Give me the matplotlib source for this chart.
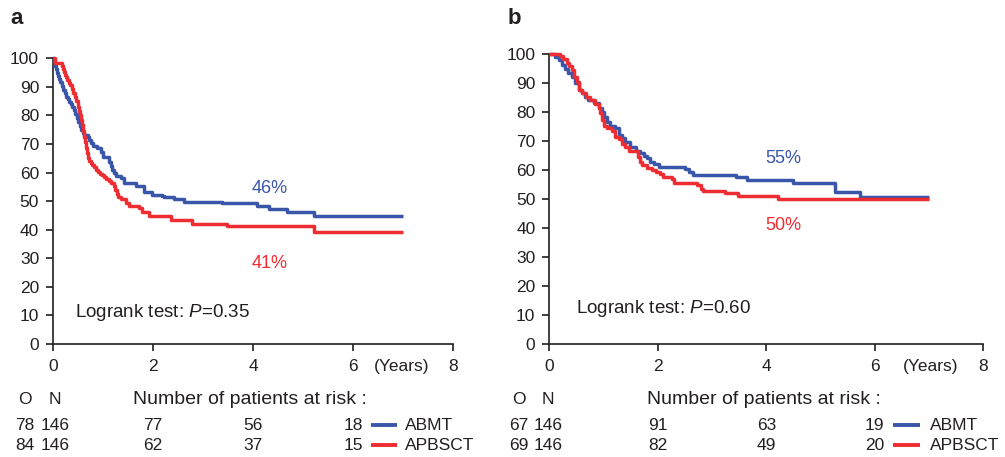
import matplotlib
matplotlib.use("Agg")
import matplotlib.pyplot as plt
from matplotlib.transforms import blended_transform_factory

plt.rcParams['font.family'] = ['Liberation Sans', 'DejaVu Sans']
plt.rcParams['mathtext.fontset'] = 'custom'
plt.rcParams['mathtext.rm'] = 'Liberation Sans'
plt.rcParams['mathtext.it'] = 'Liberation Sans:italic'

BLUE = '#3a56a8'
RED = '#ee2d33'
TXT = '#231f20'

# ---- Panel a data ----
a_abmt_t = [0, 0.02, 0.04, 0.06, 0.08, 0.10, 0.12, 0.14, 0.17, 0.20,
            0.23, 0.26, 0.29, 0.32, 0.35, 0.38, 0.41, 0.44, 0.47, 0.50,
            0.53, 0.56, 0.59, 0.62, 0.69, 0.72, 0.75, 0.8, 0.88, 0.95,
            1.0, 1.12, 1.15, 1.18, 1.21, 1.25, 1.35, 1.41, 1.65, 1.81,
            1.98, 2.18, 2.21, 2.41, 2.61, 3.38, 4.08, 4.31, 4.68, 5.21, 7.0]
a_abmt_s = [100, 98.7, 97.4, 96.2, 95, 93.8, 92.6, 91.6, 90.4, 89,
            87.8, 86.6, 85.6, 84.8, 84, 83, 81.8, 80.6, 79.2, 77.6,
            76.2, 75, 74, 73.2, 72.6, 71.5, 70.2, 69.3, 68.5, 67.3,
            65.3, 63.8, 62.2, 60.8, 59.7, 58.8, 58, 56.5, 55.3, 53.3,
            52.2, 51.8, 51.3, 50.6, 49.8, 49.2, 48.3, 47.1, 46.2, 44.8, 44.8]
a_apb_t = [0, 0.03, 0.18, 0.2, 0.22, 0.24, 0.26, 0.28, 0.31, 0.34,
           0.37, 0.40, 0.43, 0.46, 0.49, 0.51, 0.53, 0.55, 0.57, 0.59,
           0.61, 0.63, 0.65, 0.67, 0.69, 0.72, 0.75, 0.78, 0.81, 0.85,
           0.89, 0.93, 0.97, 1.01, 1.06, 1.11, 1.16, 1.21, 1.24, 1.27,
           1.30, 1.35, 1.45, 1.51, 1.71, 1.78, 1.91, 2.35, 2.78, 3.48, 5.21, 7.0]
a_apb_s = [100, 98.2, 97.2, 96.2, 95.2, 94.2, 93.3, 92.4, 91.5, 90.7,
           89.4, 88, 86.6, 85, 83.1, 81.5, 80, 78.4, 76.6, 74.6,
           72.6, 70.6, 68.6, 66.7, 65.2, 64.2, 63.3, 62.5, 61.8, 61,
           60.2, 59.6, 59, 58.4, 57.8, 57.2, 56.4, 55.2, 53.8, 52.5,
           51.6, 50.8, 49.2, 48.4, 47.5, 46.3, 44.8, 43.5, 42, 41.2, 39.1, 39.1]

# ---- Panel b data ----
b_abmt_t = [0, 0.1, 0.17, 0.23, 0.29, 0.35, 0.41, 0.48, 0.54, 0.6,
            0.66, 0.72, 0.82, 0.91, 0.97, 1.01, 1.06, 1.12, 1.22, 1.28,
            1.34, 1.4, 1.49, 1.59, 1.68, 1.74, 1.8, 1.86, 1.93, 2.02,
            2.51, 2.57, 2.64, 3.44, 3.65, 4.49, 5.26, 5.72, 7.0]
b_abmt_s = [100, 99, 97.9, 96.2, 94.7, 93.3, 92, 89.9, 87.6, 86.4,
            85.3, 84.1, 83, 81.3, 80.1, 78.3, 76.6, 75.2, 74.4, 72.1,
            70.9, 69.8, 68, 66.7, 66, 64.8, 64, 62.9, 62.1, 61.1,
            60.4, 59.4, 58.3, 57.5, 56.6, 55.6, 52.5, 50.8, 50.8]
b_apb_t = [0, 0.2, 0.26, 0.32, 0.37, 0.41, 0.46, 0.51, 0.55, 0.6,
           0.68, 0.75, 0.85, 0.91, 0.94, 0.97, 1.01, 1.07, 1.15, 1.22,
           1.28, 1.34, 1.4, 1.46, 1.63, 1.67, 1.71, 1.8, 1.9, 1.96,
           2.04, 2.1, 2.27, 2.3, 2.73, 2.79, 2.84, 3.24, 3.48, 4.22, 7.0]
b_apb_s = [100, 99.3, 98.2, 97, 95.9, 94.5, 92.2, 90.5, 87.6, 86.4,
           85.1, 84.1, 82.8, 81.3, 79.5, 77.2, 75.2, 74.4, 73.6, 71.5,
           70.6, 69, 67.8, 66.7, 64.4, 62.9, 61.7, 60.6, 60, 59.4,
           58.6, 57.7, 56.8, 55.6, 54.7, 53.6, 52.9, 52, 51, 50.1, 50.1]

# labels / tables
x_ticks = [0, 2, 4, 6, 8]
y_ticks = list(range(0, 101, 10))
risk_times = [2, 4, 6]
a_risk_abmt = [77, 56, 18]
a_risk_apb = [62, 37, 15]
b_risk_abmt = [91, 63, 19]
b_risk_apb = [82, 49, 20]
a_on = [("78", "146"), ("84", "146")]
b_on = [("67", "146"), ("69", "146")]
a_pct = ("46%", "41%")
b_pct = ("55%", "50%")
a_p = "0.35"
b_p = "0.60"
groups = ["ABMT", "APBSCT"]

W, H = 1005, 457
fig = plt.figure(figsize=(W / 100, H / 100), dpi=100)

def fx(px):
    return px / W

def fy(py):
    return 1 - py / H

FS = 12.5      # numbers
FS_T = 13.5    # words

def panel(rect, letter, letter_px, s_abmt, s_apb, pct, pct_pos, pval, p_pos,
          risk_abmt, risk_apb, onlist, on_x, num_x, line_x, lab_x, years_x):
    ax = fig.add_axes(rect)
    ax.plot(s_abmt[0], s_abmt[1], drawstyle='steps-post', color=BLUE, lw=2.5,
            solid_joinstyle='round', solid_capstyle='butt', zorder=3, clip_on=False)
    ax.plot(s_apb[0], s_apb[1], drawstyle='steps-post', color=RED, lw=2.5,
            solid_joinstyle='round', solid_capstyle='butt', zorder=3, clip_on=False)
    ax.set_xlim(0, 8)
    ax.set_ylim(0, 100)
    ax.set_xticks(x_ticks)
    ax.set_yticks(y_ticks)
    ax.set_xticklabels([str(t) for t in x_ticks])
    for s in ['top', 'right']:
        ax.spines[s].set_visible(False)
    for s in ['left', 'bottom']:
        ax.spines[s].set_color(TXT)
        ax.spines[s].set_linewidth(1.2)
    ax.tick_params(direction='out', length=5, width=1.2, colors=TXT, labelsize=FS,
                   labelcolor=TXT)
    ax.tick_params(axis='x', pad=6)
    ax.tick_params(axis='y', pad=5)
    ax.patch.set_alpha(0)
    # percentage labels
    ax.text(pct_pos[0], pct_pos[1], pct[0], color=BLUE, fontsize=13, ha='center', va='center')
    ax.text(pct_pos[0], pct_pos[2], pct[1], color=RED, fontsize=13, ha='center', va='center')
    ax.text(p_pos[0], p_pos[1], r"Logrank test: $\mathit{P}$=" + pval, color=TXT,
            fontsize=FS_T, ha='left', va='center')
    tr = blended_transform_factory(ax.transData, fig.transFigure)
    ax.text(years_x, fy(366), "(Years)", transform=tr, fontsize=FS, color=TXT,
            ha='center', va='center', clip_on=False)
    # table
    ax.text(on_x[0], fy(399), "O", transform=tr, fontsize=FS, color=TXT, ha='center', va='center')
    ax.text(on_x[1], fy(399), "N", transform=tr, fontsize=FS, color=TXT, ha='center', va='center')
    ax.text(num_x, fy(399), "Number of patients at risk :", transform=tr, fontsize=14,
            color=TXT, ha='left', va='center')
    rows_y = [fy(425), fy(445)]
    for yy, (o, n), risk, col, g in zip(rows_y, onlist, [risk_abmt, risk_apb], [BLUE, RED], groups):
        ax.text(on_x[0], yy, o, transform=tr, fontsize=FS, color=TXT, ha='center', va='center')
        ax.text(on_x[1], yy, n, transform=tr, fontsize=FS, color=TXT, ha='center', va='center')
        for t, r in zip(risk_times, risk):
            ax.text(t, yy, str(r), transform=tr, fontsize=FS, color=TXT, ha='center', va='center')
        ax.plot(line_x, [yy, yy], transform=tr, color=col, lw=2.8, clip_on=False,
                solid_capstyle='butt')
        ax.text(lab_x, yy, g, transform=tr, fontsize=FS, color=TXT, ha='left', va='center')
    fig.text(fx(letter_px[0]), fy(letter_px[1]), letter, fontsize=16, fontweight='bold',
             color=TXT, ha='left', va='center')
    return ax

panel([fx(53), fy(344), fx(400), (344 - 58.3) / H], "a", (10, 19),
      (a_abmt_t, a_abmt_s), (a_apb_t, a_apb_s), a_pct, (4.34, 54.5, 28.3), a_p, (0.44, 11.2),
      a_risk_abmt, a_risk_apb, a_on, (-0.56, 0.04), 1.6, [6.36, 6.88], 7.04, 6.98)

panel([fx(549.3), fy(344), fx(434), (344 - 54) / H], "b", (508, 19),
      (b_abmt_t, b_abmt_s), (b_apb_t, b_apb_s), b_pct, (4.31, 64.1, 41.0), b_p, (0.5, 12.4),
      b_risk_abmt, b_risk_apb, b_on, (-0.57, -0.02), 1.8, [6.34, 6.84], 7.02, 7.02)

fig.savefig("out.png", dpi=100)
